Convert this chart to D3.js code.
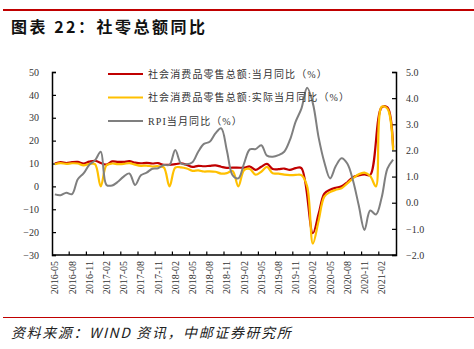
<!DOCTYPE html>
<html><head><meta charset="utf-8">
<script src="https://cdn.jsdelivr.net/npm/d3@7"></script>
<style>
html,body{margin:0;padding:0;background:#fff;}
svg{display:block;}
</style></head>
<body>
<svg id="chart" width="474" height="349"></svg>
<script>
const categories = ["2016-05","2016-06","2016-07","2016-08","2016-09","2016-10","2016-11","2016-12",
  "2017-01","2017-02","2017-03","2017-04","2017-05","2017-06","2017-07","2017-08","2017-09","2017-10","2017-11","2017-12",
  "2018-01","2018-02","2018-03","2018-04","2018-05","2018-06","2018-07","2018-08","2018-09","2018-10","2018-11","2018-12",
  "2019-01","2019-02","2019-03","2019-04","2019-05","2019-06","2019-07","2019-08","2019-09","2019-10","2019-11","2019-12",
  "2020-01","2020-02","2020-03","2020-04","2020-05","2020-06","2020-07","2020-08","2020-09","2020-10","2020-11","2020-12",
  "2021-01","2021-02","2021-03","2021-04"];
// 社会消费品零售总额:当月同比 (%), left axis; null = no January figure
const nominalYoY = [10.0,10.6,10.2,10.6,10.7,10.0,10.8,11.2,
  null,9.5,10.9,10.7,10.7,11.0,10.4,10.1,10.3,10.0,10.2,9.4,
  null,9.7,10.1,9.4,8.5,9.0,8.8,9.0,9.2,8.6,8.1,8.2,
  null,8.2,8.7,7.2,8.6,9.8,7.6,7.5,7.8,7.2,8.0,8.0,
  null,-20.5,-12.0,-3.2,-1.5,-0.6,0.0,1.8,4.0,4.8,5.2,5.0,
  null,34.5,34.5,17.0];
// 社会消费品零售总额:实际当月同比 (%), left axis
const realYoY = [9.7,10.2,9.8,10.1,10.0,9.2,9.8,9.7,
  0,9.2,10.0,9.7,9.8,10.2,9.5,9.0,9.1,8.7,8.8,8.3,
  0,8.2,8.3,7.8,6.8,7.0,6.5,6.6,6.4,5.6,5.8,6.7,
  0,7.1,7.6,5.1,6.4,8.5,5.7,5.6,5.1,4.9,5.0,4.9,
  0,-25.0,-15.0,-4.5,-2.5,-1.5,-0.8,1.3,3.5,5.3,6.0,4.5,
  0,34.8,34.0,15.9];
// RPI当月同比 (%), right axis
const rpiYoY = [0.32,0.29,0.38,0.33,0.9,1.12,1.45,1.62,
  1.95,0.68,0.66,0.8,1.0,1.12,0.68,1.05,1.15,1.3,1.32,1.44,
  1.45,2.02,1.5,1.47,1.55,1.95,2.25,2.33,2.65,2.85,2.0,1.05,
  0.93,1.5,2.04,2.05,2.2,1.8,1.76,1.82,1.95,2.4,3.1,3.6,
  4.4,3.8,2.5,1.55,0.93,1.4,1.7,1.5,0.85,-0.1,-1.04,-0.3,
  -0.45,0.2,1.3,1.65];
const leftTicks = [-30,-20,-10,0,10,20,30,40,50];
const rightTicks = [-2,-1,0,1,2,3,4,5];
const seriesNames = ["社会消费品零售总额:当月同比（%）","社会消费品零售总额:实际当月同比（%）","RPI当月同比（%）"];
const seriesColors = ["#c00000","#ffc000","#7f7f7f"];
const titleText = "图表 22：社零总额同比";
const sourceText = "资料来源：WIND 资讯，中邮证券研究所";

const svg = d3.select("#chart");
const font = "'Liberation Serif','Noto Sans CJK SC',serif";
const L=52, R=396, T=72, B=255;

// header / footer
svg.append("line").attr("x1",3).attr("x2",474).attr("y1",10).attr("y2",10)
  .attr("stroke","#c00000").attr("stroke-width",2);
svg.append("text").attr("x",11).attr("y",33).text(titleText)
  .attr("font-family","'Noto Sans CJK SC',sans-serif").attr("font-weight",700)
  .attr("font-size",16).attr("letter-spacing",2.5).attr("fill","#111");
svg.append("line").attr("x1",3).attr("x2",474).attr("y1",317.5).attr("y2",317.5)
  .attr("stroke","#c00000").attr("stroke-width",1);
svg.append("text").attr("x",11).attr("y",338).text(sourceText)
  .attr("font-family","'Noto Sans CJK SC',sans-serif").attr("font-style","italic")
  .attr("font-size",14).attr("letter-spacing",1.6).attr("fill","#222");

const x = d3.scaleBand().domain(categories).range([L,R]).padding(0);
const bw = x.bandwidth();
const cx = c => x(c)+bw/2;
const yL = d3.scaleLinear().domain([-30,50]).range([B,T]);
const yR = d3.scaleLinear().domain([-2,5]).range([B,T]);

const gL = svg.append("g").attr("transform",`translate(${L},0)`)
  .call(d3.axisLeft(yL).tickValues(leftTicks).tickSize(-4).tickPadding(13).tickFormat(d3.format("d")));
const gR = svg.append("g").attr("transform",`translate(${R},0)`)
  .call(d3.axisRight(yR).tickValues(rightTicks).tickSize(-4).tickPadding(10).tickFormat(d3.format(".1f")));
const every3 = categories.filter((d,i)=>i%3===0);
const gB = svg.append("g").attr("transform",`translate(0,${B})`)
  .call(d3.axisBottom(x).tickValues(every3).tickSize(0).tickPadding(0));
gB.selectAll("text").attr("transform","rotate(-90)").attr("text-anchor","end")
  .attr("x",-6).attr("y",0).attr("dy","0.35em");
svg.append("g").selectAll("line").data(every3.slice(1)).join("line")
  .attr("x1",d=>x(d)).attr("x2",d=>x(d)).attr("y1",B).attr("y2",B-3.5)
  .attr("stroke","#000").attr("stroke-width",1.2);

[gL,gR,gB].forEach(g=>{
  g.select(".domain").attr("stroke","#000").attr("stroke-width",1.5);
  g.selectAll(".tick line").attr("stroke","#000").attr("stroke-width",1.2);
  g.selectAll("text").attr("font-family",font).attr("font-size",10).attr("fill","#333");
});
gB.select(".domain").attr("d",`M${L},0H${R}`);

const curve = d3.curveCatmullRom.alpha(0.5);
const mk = arr => categories.map((c,i)=>({c,v:arr[i]})).filter(d=>d.v!==null && d.v!==undefined);
const lineL = d3.line().x(d=>cx(d.c)).y(d=>yL(d.v)).curve(curve);
const lineR = d3.line().x(d=>cx(d.c)).y(d=>yR(d.v)).curve(curve);
svg.append("path").datum(mk(nominalYoY)).attr("d",lineL).attr("fill","none")
  .attr("stroke",seriesColors[0]).attr("stroke-width",2.2);
svg.append("path").datum(mk(realYoY)).attr("d",lineL).attr("fill","none")
  .attr("stroke",seriesColors[1]).attr("stroke-width",2.2);
svg.append("path").datum(mk(rpiYoY)).attr("d",lineR).attr("fill","none")
  .attr("stroke",seriesColors[2]).attr("stroke-width",2);

const lg = svg.append("g").selectAll("g").data(seriesNames).join("g")
  .attr("transform",(d,i)=>`translate(108,${74+i*23.5})`);
lg.append("line").attr("x1",0).attr("x2",35).attr("y1",0).attr("y2",0)
  .attr("stroke",(d,i)=>seriesColors[i]).attr("stroke-width",2.2);
lg.append("text").attr("x",40).attr("y",0).attr("dy","0.35em").text(d=>d)
  .attr("font-family",font).attr("font-size",10).attr("letter-spacing",1.1).attr("fill","#333");
</script>
</body></html>
